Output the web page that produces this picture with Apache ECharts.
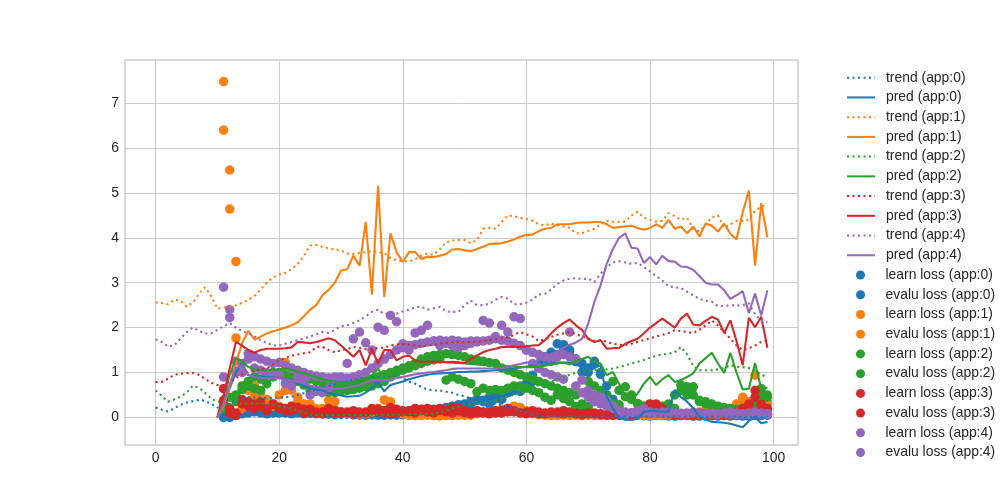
<!DOCTYPE html>
<html>
<head>
<meta charset="utf-8">
<script src="https://cdn.jsdelivr.net/npm/echarts@6/dist/echarts.min.js"></script>
<style>
html,body{margin:0;padding:0;background:#fff;}
#chart{width:1000px;height:500px;}
</style>
</head>
<body>
<div id="chart"></div>
<script>
// ---------- data ----------
const appNames = ['app:0', 'app:1', 'app:2', 'app:3', 'app:4'];
const xTicks = [0, 20, 40, 60, 80, 100];
const yTicks = [0, 1, 2, 3, 4, 5, 6, 7];
const trendStartX = 0;   // trend series start at x = 0
const predStartX = 10;   // pred series start at x = 10
const lossStartX = 11;   // loss scatters start at x = 11

const trend0 = [0.22,0.17,0.13,0.2,0.28,0.33,0.36,0.39,0.37,0.3, 0.22,0.25,0.32,0.38,0.43,0.45,0.45,0.44,0.43,0.43, 0.44,0.45,0.46,0.5,0.54,0.58,0.61,0.65,0.7,0.74, 0.78,0.81,0.83,0.86,0.88,0.9,0.9,0.9,0.91,0.91, 0.88,0.8,0.75,0.68,0.62,0.6,0.6,0.57,0.55,0.5, 0.47,0.42,0.4,0.36,0.32,0.3,0.27,0.24,0.2,0.15, 0.1,0.06,0.03,0.02,0.02,0.01,0.02,0.02,0.01,0.02, 0.02,0.01,0.02,0.02,0.01,0.02,0.02,0.01,0.02,0.02, 0.01,0.02,0.02,0.01,0.02,0.02,0.01,0.02,0.02,0.01, 0.02,0.02,0.01,0.02,0.02,0.01,0.02,0.02,0.01,0.02];
const trend1 = [2.56,2.55,2.52,2.62,2.6,2.47,2.55,2.75,2.9,2.7, 2.42,2.45,2.46,2.5,2.55,2.62,2.7,2.85,3.0,3.12, 3.18,3.22,3.3,3.42,3.6,3.83,3.84,3.8,3.76,3.74, 3.72,3.65,3.64,3.66,3.68,3.7,3.68,3.66,3.55,3.5, 3.47,3.48,3.52,3.6,3.65,3.62,3.75,3.9,3.94,3.95, 3.95,3.88,3.95,4.2,4.22,4.2,4.35,4.5,4.48,4.44, 4.42,4.38,4.3,4.28,4.32,4.28,4.25,4.22,4.1,4.1, 4.15,4.2,4.3,4.38,4.36,4.35,4.36,4.5,4.58,4.45, 4.4,4.36,4.38,4.55,4.48,4.4,4.45,4.2,4.14,4.3, 4.45,4.5,4.22,4.3,4.38,4.38,4.4,4.6,4.7,4.72];
const trend2 = [0.6,0.48,0.35,0.4,0.46,0.55,0.7,0.66,0.55,0.42, 0.35,0.32,0.3,0.3,0.31,0.31,0.31,0.31,0.3,0.28, 0.25,0.22,0.2,0.15,0.1,0.06,0.05,0.05,0.05,0.05, 0.05,0.05,0.05,0.05,0.05,0.06,0.06,0.06,0.06,0.06, 0.06,0.07,0.07,0.07,0.08,0.08,0.12,0.15,0.2,0.24, 0.27,0.3,0.32,0.34,0.35,0.38,0.42,0.46,0.5,0.53, 0.6,0.68,0.72,0.76,0.8,0.85,0.9,0.95,1.0,1.02, 1.04,1.05,1.06,1.07,1.09,1.12,1.16,1.2,1.24,1.28, 1.33,1.37,1.4,1.42,1.45,1.57,1.4,1.15,1.05,1.05, 1.05,1.07,1.1,1.16,1.13,1.12,1.1,1.05,0.95,0.9];
const trend3 = [0.79,0.79,0.86,0.95,0.97,0.99,0.99,0.95,0.86,0.77, 0.72,0.72,0.8,0.88,0.96,1.01,1.04,1.07,1.09,1.18, 1.27,1.32,1.37,1.4,1.43,1.45,1.57,1.57,1.5,1.45, 1.5,1.52,1.57,1.55,1.52,1.52,1.55,1.55,1.6,1.62, 1.64,1.62,1.6,1.58,1.6,1.62,1.64,1.66,1.68,1.68, 1.68,1.68,1.68,1.7,1.72,1.74,1.76,1.78,1.84,1.9, 1.85,1.8,1.7,1.74,1.79,1.84,1.87,1.9,1.86,1.8, 1.76,1.7,1.72,1.69,1.64,1.62,1.61,1.64,1.68,1.72, 1.76,1.8,1.84,1.88,1.94,1.92,1.9,1.88,1.95,2.05, 2.16,2.05,1.9,1.75,1.6,1.5,1.54,1.6,1.68,1.72];
const trend4 = [1.74,1.68,1.58,1.6,1.75,1.9,2.0,1.93,1.87,1.87, 1.95,2.03,2.1,2.0,1.92,1.87,1.8,1.72,1.66,1.6, 1.6,1.64,1.68,1.72,1.76,1.8,1.85,1.9,1.88,1.95, 2.03,2.05,2.1,2.16,2.25,2.35,2.4,2.3,2.33,2.31, 2.36,2.4,2.45,2.47,2.4,2.43,2.46,2.36,2.35,2.35, 2.5,2.6,2.5,2.5,2.53,2.62,2.68,2.65,2.52,2.52, 2.56,2.62,2.74,2.75,2.85,2.97,3.05,3.09,3.1,3.08, 3.09,3.02,3.2,3.35,3.45,3.48,3.45,3.42,3.44,3.35, 3.25,3.15,3.05,2.92,2.9,2.88,2.8,2.72,2.64,2.6, 2.58,2.48,2.48,2.5,2.49,2.5,2.54,2.3,2.15,2.12];

const pred0 = [0,0.3,0.65,1.0,1.2,0.94,0.92,0.9,0.9,0.89, 0.88,0.86,0.83,0.76,0.7,0.64,0.62,0.6,0.55,0.51, 0.49,0.46,0.47,0.48,0.55,0.65,0.8,0.58,0.72,0.76, 0.8,0.85,0.89,0.92,0.95,0.97,0.98,0.99,1.0,1.01, 1.01,1.02,1.02,1.03,1.04,1.05,1.06,1.07,1.09,1.11, 1.13,1.15,1.12,1.18,1.2,1.22,1.22,1.22,1.2,1.1, 1.02,1.1,1.16,0.46,0.2,-0.02,-0.05,-0.06,-0.03,0.12, 0.15,0.14,0.13,0.12,0.61,0.45,0.35,0.2,0.02,-0.05, -0.1,-0.11,-0.12,-0.14,-0.18,-0.22,-0.08,0.01,-0.13,-0.1];
const pred1 = [0,0.25,0.7,1.2,1.65,1.93,1.73,1.8,1.87,1.92, 1.96,2.0,2.05,2.12,2.25,2.4,2.5,2.72,2.84,3.0, 3.27,3.3,3.6,3.38,4.35,2.74,5.16,2.68,4.1,3.68, 3.46,3.68,3.68,3.53,3.58,3.57,3.6,3.64,3.74,3.75, 3.72,3.7,3.75,3.8,3.86,3.87,3.88,3.92,3.96,4.03, 4.06,4.07,4.15,4.2,4.22,4.3,4.3,4.3,4.33,4.34, 4.34,4.35,4.35,4.3,4.22,4.24,4.25,4.27,4.22,4.18, 4.22,4.3,4.22,4.4,4.2,4.25,4.1,4.25,4.03,4.32, 4.27,4.14,4.32,4.09,3.96,4.57,5.05,3.38,4.77,4.01];
const pred2 = [0,0.45,0.95,1.31,1.25,1.12,1.08,1.06,1.05,1.06, 1.07,1.08,1.06,1.02,0.98,0.94,0.9,0.85,0.82,0.8, 0.79,0.78,0.8,0.83,0.87,0.94,1.09,0.83,0.98,0.98, 1.09,1.18,1.28,1.28,1.26,1.25,1.24,1.23,1.22,1.21, 1.2,1.19,1.18,1.17,1.17,1.16,1.15,1.14,1.13,1.12, 1.12,1.12,1.13,1.15,1.18,1.2,1.22,1.18,1.25,1.3, 1.35,1.24,1.2,0.94,1.01,0.75,0.46,0.38,0.53,0.75, 0.9,0.72,0.85,0.94,0.79,0.83,0.9,0.98,1.2,1.32, 1.44,1.2,0.99,1.44,1.0,0.62,0.64,1.21,0.64,0.66];
const pred3 = [0,0.5,1.1,1.68,1.6,1.5,1.44,1.5,1.53,1.53, 1.53,1.54,1.56,1.68,1.67,1.65,1.68,1.72,1.76,1.72, 1.6,1.48,1.35,1.5,1.16,1.52,1.2,1.5,1.5,1.27, 1.35,1.38,1.26,1.24,1.24,1.24,1.24,1.23,1.24,1.23, 1.21,1.3,1.38,1.45,1.5,1.53,1.57,1.57,1.57,1.57, 1.58,1.6,1.61,1.72,1.87,2.0,2.1,2.18,2.05,1.95, 1.75,1.68,1.72,1.53,1.54,1.55,1.64,1.7,1.75,1.87, 2.0,2.1,2.2,2.1,2.0,2.2,2.31,2.07,2.05,2.15, 2.24,2.18,1.88,2.16,1.7,1.16,2.22,2.01,2.24,1.55];
const pred4 = [0,0.3,0.75,1.1,1.16,0.95,0.9,0.88,0.87,0.87, 0.87,0.85,0.82,0.79,0.75,0.71,0.68,0.65,0.64,0.64, 0.64,0.66,0.69,0.72,0.77,0.83,0.83,0.83,0.84,0.88, 0.9,0.93,0.96,0.98,1.0,1.01,1.03,1.05,1.08,1.09, 1.09,1.09,1.09,1.09,1.09,1.09,1.1,1.12,1.16,1.19, 1.22,1.24,1.28,1.34,1.4,1.47,1.55,1.62,1.67,1.75, 2.09,2.57,2.94,3.42,3.75,4.0,4.1,3.78,3.76,3.44, 3.57,3.41,3.6,3.48,3.47,3.36,3.35,3.29,3.15,3.0, 2.96,2.96,2.83,2.64,2.72,2.81,2.32,2.76,2.27,2.83];

const learn0 = [0.0,0.02,0.05,0.1,0.15,0.12,0.1,0.08,0.1,0.12, 0.1,0.08,0.12,0.1,0.09,0.08,0.1,0.07,0.06,0.08, 0.07,0.06,0.08,0.05,0.06,0.07,0.05,0.06,0.05,0.06, 0.05,0.06,0.08,0.1,0.12,0.15,0.2,0.25,0.22,0.3, 0.35,0.4,0.38,0.45,0.5,0.55,0.6,0.62,0.7,0.75, 0.94,1.1,1.3,1.25,1.64,1.55,1.4,1.24,1.01,1.0, 1.2,0.96,0.5,0.2,0.08,0.05,0.04,0.05,0.04,0.03, 0.04,0.05,0.03,0.04,0.05,0.04,0.03,0.04,0.03,0.04, 0.03,0.04,0.05,0.04,0.03,0.05,0.04,0.06,0.05];
const evalu0 = [0.02,0.0,0.04,0.08,0.1,0.2,0.18,0.15,0.12,0.1, 0.12,0.15,0.1,0.08,0.1,0.12,0.08,0.1,0.09,0.07, 0.08,0.06,0.05,0.07,0.06,0.05,0.07,0.06,0.08,0.07, 0.06,0.05,0.07,0.08,0.1,0.18,0.22,0.2,0.28,0.25, 0.3,0.38,0.35,0.3,0.42,0.4,0.55,0.6,0.58,0.68, 0.8,1.2,1.35,1.45,1.4,1.62,1.5,1.3,1.2,1.1, 1.25,1.0,0.7,0.4,0.2,0.1,0.06,0.05,0.04,0.05, 0.05,0.04,0.05,0.03,0.04,0.05,0.04,0.03,0.05,0.04, 0.04,0.05,0.03,0.04,0.05,0.03,0.05,0.04,0.06];
const learn1 = [7.48,5.51,3.47,0.2,0.72,0.45,0.3,0.35,0.25,0.5, 1.22,0.6,0.45,0.3,0.25,0.2,0.15,0.2,0.35,0.12, 0.1,0.08,0.1,0.08,0.12,0.2,1.3,0.25,0.1,0.08, 0.06,0.05,0.04,0.05,0.04,0.05,0.04,0.05,0.06,0.05, 0.05,0.08,0.1,0.12,0.15,0.18,0.15,0.18,0.2,0.12, 0.1,0.08,0.06,0.05,0.04,0.05,0.06,0.05,0.04,0.05, 0.05,0.04,0.05,0.04,0.06,0.05,0.04,0.05,0.06,0.05, 0.05,0.06,0.05,0.07,0.06,0.08,0.1,0.12,0.15,0.12, 0.15,0.18,0.2,0.25,0.38,0.3,0.94,0.45,0.3];
const evalu1 = [6.4,4.64,1.77,0.3,0.6,0.7,0.55,0.4,0.3,0.25, 0.6,0.82,0.35,0.2,0.3,0.15,0.2,0.38,0.18,0.1, 0.08,0.1,0.07,0.1,0.15,0.2,0.39,0.35,0.15,0.1, 0.05,0.04,0.05,0.06,0.04,0.03,0.05,0.04,0.05,0.06, 0.08,0.1,0.12,0.1,0.14,0.16,0.2,0.25,0.22,0.15, 0.08,0.06,0.05,0.04,0.05,0.06,0.04,0.05,0.04,0.06, 0.04,0.05,0.04,0.06,0.05,0.04,0.05,0.06,0.05,0.04, 0.06,0.05,0.06,0.05,0.07,0.08,0.09,0.1,0.12,0.1, 0.12,0.15,0.18,0.3,0.45,0.35,0.25,0.4,0.35];
const learn2 = [0.2,0.1,0.35,0.62,0.7,0.64,0.6,0.75,0.9,1.0, 0.95,0.9,0.8,0.72,0.6,0.58,0.62,0.56,0.55,0.58, 0.6,0.62,0.65,0.68,0.7,0.75,0.8,0.9,1.0,1.05, 1.1,1.15,1.2,1.25,1.28,1.3,0.83,0.9,0.85,0.8, 0.75,0.57,0.65,0.6,0.62,0.6,0.65,0.7,0.68,0.65, 0.6,0.55,0.45,0.38,0.5,0.42,0.35,0.24,0.3,0.24, 0.45,0.4,0.35,0.3,0.28,0.68,0.5,0.31,0.25,0.2, 0.18,0.15,0.12,0.2,0.72,0.68,0.5,0.35,0.3,0.25, 0.2,0.18,0.15,0.12,0.1,0.15,0.2,0.64,0.5];
const evalu2 = [0.3,0.45,0.5,0.7,0.8,0.9,0.85,0.95,1.0,0.98, 0.9,0.85,0.95,0.9,0.85,0.8,0.78,0.75,0.72,0.7, 0.72,0.75,0.78,0.8,0.85,0.9,0.95,1.0,1.05,1.1, 1.15,1.2,1.3,1.35,1.38,1.4,1.42,1.4,1.38,1.35, 1.3,1.28,1.25,1.22,1.2,1.1,1.05,1.0,0.95,0.9, 0.85,0.8,0.75,0.7,0.65,0.6,0.55,0.5,0.24,0.8, 0.7,0.6,0.5,0.8,0.6,0.46,0.4,0.3,0.25,0.22, 0.2,0.25,0.3,0.5,0.6,0.5,0.68,0.38,0.35,0.3, 0.25,0.22,0.2,0.18,0.2,0.25,0.3,0.5,0.45];
const learn3 = [0.64,0.09,0.1,0.3,0.25,0.2,0.35,0.15,0.3,0.2, 0.15,0.25,0.2,0.1,0.18,0.12,0.08,0.15,0.1,0.12, 0.1,0.08,0.12,0.1,0.15,0.12,0.1,0.08,0.1,0.12, 0.15,0.2,0.18,0.12,0.1,0.15,0.12,0.1,0.14,0.1, 0.08,0.1,0.12,0.08,0.1,0.15,0.2,0.12,0.1,0.08, 0.1,0.12,0.08,0.1,0.12,0.15,0.1,0.08,0.06,0.08, 0.1,0.08,0.06,0.05,0.06,0.08,0.1,0.15,0.2,0.3, 0.25,0.1,0.08,0.06,0.05,0.06,0.08,0.1,0.08,0.06, 0.05,0.06,0.08,0.1,0.15,0.2,0.6,0.3,0.15];
const evalu3 = [0.38,0.2,0.05,0.4,0.35,0.3,0.25,0.2,0.28,0.22, 0.2,0.15,0.22,0.18,0.15,0.1,0.12,0.2,0.15,0.1, 0.12,0.15,0.1,0.12,0.2,0.18,0.15,0.22,0.18,0.15, 0.12,0.1,0.15,0.2,0.18,0.2,0.15,0.22,0.2,0.15, 0.12,0.15,0.1,0.12,0.15,0.1,0.12,0.15,0.1,0.12, 0.15,0.08,0.1,0.12,0.1,0.08,0.12,0.1,0.08,0.1, 0.08,0.06,0.05,0.07,0.05,0.06,0.05,0.1,0.12,0.25, 0.3,0.2,0.1,0.05,0.06,0.07,0.05,0.06,0.05,0.06, 0.08,0.06,0.1,0.12,0.2,0.3,0.45,0.25,0.2];
const learn4 = [2.9,2.4,1.25,1.0,1.42,1.35,1.3,1.25,1.2,1.22, 1.15,1.1,1.05,1.0,0.95,0.92,0.9,0.88,0.9,0.85, 0.88,0.9,0.95,1.0,1.1,1.2,1.3,1.4,1.5,1.55, 1.6,1.62,1.65,1.68,1.7,1.72,1.7,1.72,1.7,1.68, 1.7,1.68,1.7,1.72,1.75,1.72,1.7,1.65,1.6,1.5, 1.45,1.4,1.35,1.3,1.35,1.4,1.35,1.3,0.83,0.6, 0.5,0.45,0.38,0.25,0.1,0.08,0.1,0.12,0.1,0.08, 0.1,0.12,0.08,0.1,0.09,0.08,0.1,0.08,0.07,0.08, 0.06,0.08,0.07,0.06,0.08,0.07,0.06,0.08,0.07];
const evalu4 = [0.9,2.22,1.0,1.2,1.3,1.1,1.05,1.0,0.98,0.95, 0.75,0.7,0.9,0.85,0.5,0.6,0.55,0.65,0.85,0.9, 1.2,1.75,1.9,1.66,1.5,2.01,1.94,2.27,2.13,1.64, 1.5,1.88,1.94,2.05,1.7,1.6,1.65,1.6,1.55,1.6, 1.65,1.7,2.16,2.1,1.8,2.05,1.9,2.24,2.2,1.5, 1.2,1.1,1.0,0.95,0.9,0.85,1.9,0.7,0.55,0.45, 0.35,0.3,0.25,0.2,0.15,0.12,0.1,0.15,0.2,0.12, 0.1,0.08,0.12,0.1,0.08,0.1,0.12,0.1,0.08,0.1, 0.08,0.1,0.12,0.1,0.08,0.1,0.12,0.1,0.08];

const trends = [trend0, trend1, trend2, trend3, trend4];
const preds = [pred0, pred1, pred2, pred3, pred4];
const learns = [learn0, learn1, learn2, learn3, learn4];
const evalus = [evalu0, evalu1, evalu2, evalu3, evalu4];

// ---------- styling ----------
const colors = ['#1f77b4', '#ff7f0e', '#2ca02c', '#d62728', '#9467bd'];
const FONT = '"Liberation Sans", Arial, sans-serif';
const LW = 2.08;

function pairs(start, arr) { return arr.map((v, i) => [start + i, v]); }

const lineSeries = [];
const scatterSeries = [];
appNames.forEach((app, i) => {
  lineSeries.push({
    name: 'trend (' + app + ')', type: 'line', data: pairs(trendStartX, trends[i]),
    symbol: 'none', showSymbol: false, z: 3,
    lineStyle: { color: colors[i], width: LW, type: [2.1, 3.4], cap: 'butt' },
    itemStyle: { color: colors[i] }
  });
  lineSeries.push({
    name: 'pred (' + app + ')', type: 'line', data: pairs(predStartX, preds[i]),
    symbol: 'none', showSymbol: false, z: 3,
    lineStyle: { color: colors[i], width: LW, type: 'solid' },
    itemStyle: { color: colors[i] }
  });
  scatterSeries.push({
    name: 'learn loss (' + app + ')', type: 'scatter', data: pairs(lossStartX, learns[i]),
    symbol: 'circle', symbolSize: 9.5, z: 2,
    itemStyle: { color: colors[i], opacity: 1 }
  });
  scatterSeries.push({
    name: 'evalu loss (' + app + ')', type: 'scatter', data: pairs(lossStartX, evalus[i]),
    symbol: 'circle', symbolSize: 9.5, z: 2,
    itemStyle: { color: colors[i], opacity: 1 }
  });
});

const legendText = { fontFamily: FONT, fontSize: 13.9, color: '#262626', lineHeight: 14, padding: [0, 0, 0, 6] };
const rowPitch = 19.73;
const legendTop = 70.7;

const chart = echarts.init(document.getElementById('chart'), null, { renderer: 'canvas' });
chart.setOption({
  animation: false,
  backgroundColor: '#ffffff',
  grid: { left: 125, top: 60, width: 673, height: 385, show: true, borderColor: '#cccccc', borderWidth: 1.5, backgroundColor: '#ffffff' },
  legend: [
    {
      data: lineSeries.map(s => s.name), orient: 'vertical', left: 846, top: legendTop,
      itemWidth: 28, itemHeight: 14, itemGap: rowPitch - 14, padding: 0,
      itemStyle: { opacity: 0 },
      textStyle: legendText, selectedMode: false
    },
    {
      data: scatterSeries.map(s => s.name), orient: 'vertical', left: 856, top: legendTop + 10 * rowPitch,
      itemWidth: 28, itemHeight: 9, itemGap: rowPitch - 14, padding: 0,
      textStyle: legendText, selectedMode: false
    }
  ],
  xAxis: {
    type: 'value', min: -4.95, max: 103.95,
    axisLine: { show: false },
    axisTick: { show: false, customValues: xTicks },
    axisLabel: { customValues: xTicks, fontFamily: FONT, fontSize: 13.9, color: '#262626', margin: 6 },
    splitLine: { show: true, lineStyle: { color: '#cccccc', width: 1 } }
  },
  yAxis: {
    type: 'value', min: -0.615, max: 7.96,
    axisLine: { show: false },
    axisTick: { show: false, customValues: yTicks },
    axisLabel: { customValues: yTicks, fontFamily: FONT, fontSize: 13.9, color: '#262626', margin: 6 },
    splitLine: { show: true, lineStyle: { color: '#cccccc', width: 1 } }
  },
  series: lineSeries.concat(scatterSeries)
});
</script>
</body>
</html>
